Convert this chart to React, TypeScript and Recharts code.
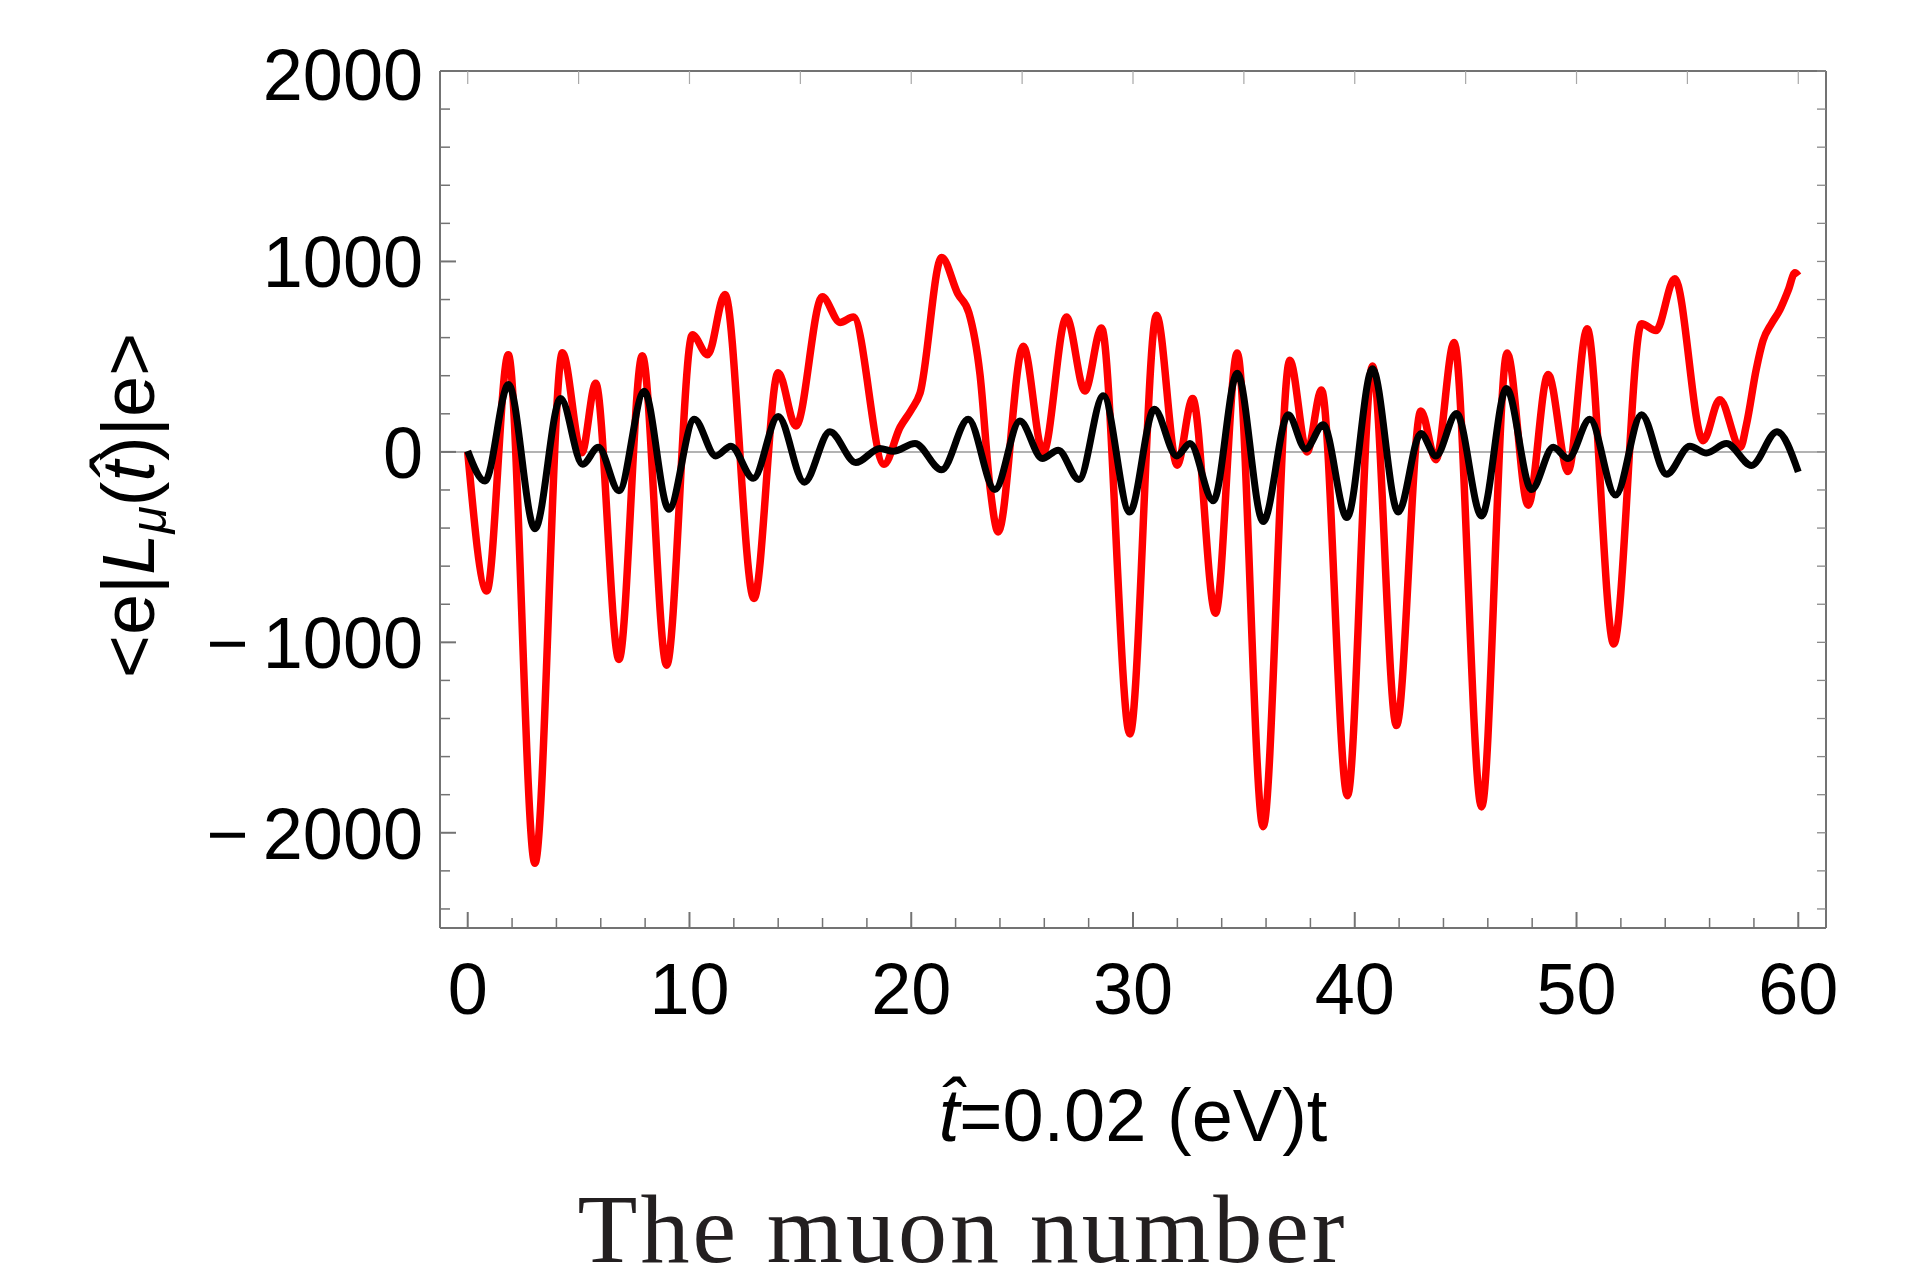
import React from 'react';
import { LineChart, Line, XAxis, YAxis, ReferenceLine } from 'recharts';

// red curve, <e|L_mu(t)|e> sampled at its turning points (t-hat, value)
const redT = [
  0, 0.86, 1.83, 3.03, 4.27, 5.14, 5.77, 6.82, 7.87, 8.97, 10.13, 10.82, 11.6, 12.91, 14.0, 14.8,
  15.99, 16.79, 17.39, 18.77, 19.5, 20.0, 20.4, 21.37, 22.1, 22.6, 23.1, 23.55, 23.92, 25.05, 25.95,
  27.0, 27.83, 28.58, 29.86, 31.06, 31.99, 32.69, 33.72, 34.7, 35.87, 37.07, 37.85, 38.5, 39.67,
  40.8, 41.88, 42.98, 43.66, 44.48, 45.72, 46.87, 47.82, 48.72, 49.62, 50.48, 51.68, 52.93, 53.58,
  54.43, 55.71, 56.46, 57.39, 57.66, 58.11, 58.41, 58.79, 59.17, 59.55, 59.85, 60.0,
];
const redL = [
  0, -730, 510, -2160, 520, -5, 360, -1090, 505, -1120, 615, 510, 826, -770, 416, 136,
  814, 680, 708, -65, 130, 220, 310, 1021, 830, 730, 407, -183, -420, 555, -5,
  708, 320, 650, -1481, 717, -70, 280, -847, 519, -1968, 481, 0, 325, -1805,
  451, -1437, 215, -41, 575, -1864, 519, -280, 407, -103, 646, -1009, 673, 637,
  909, 59, 274, 24, 142, 437, 584, 673, 746, 850, 940, 925,
];

// black curve
const blackT = [
  0, 0.78, 1.84, 3.03, 4.19, 5.18, 5.89, 6.82, 7.96, 9.07, 10.22, 11.18, 11.87, 12.88, 14.0, 15.18,
  16.33, 17.5, 18.59, 19.19, 20.17, 21.37, 22.57, 23.77, 24.9, 25.91, 26.63, 27.56, 28.66, 29.85,
  30.96, 31.97, 32.57, 33.62, 34.7, 35.87, 37.0, 37.78, 38.58, 39.65, 40.8, 41.96, 42.98, 43.66,
  44.59, 45.72, 46.84, 47.97, 48.95, 49.62, 50.6, 51.76, 52.93, 54.06, 55.11, 55.86, 56.76, 57.89,
  59.04, 60.0,
];
const blackL = [
  5, -153, 354, -404, 280, -65, 24, -204, 319, -301, 171, -21, 30, -139, 186, -159,
  106, -56, 18, 3, 44, -94, 171, -198, 162, -35, 9, -145, 295, -316,
  224, -21, 44, -257, 413, -366, 195, 15, 142, -345, 437, -316, 97, -21,
  201, -336, 333, -198, 24, -35, 171, -227, 195, -118, 30, -6, 44, -71,
  106, -105,
];

const xMajorTicks = [0, 10, 20, 30, 40, 50, 60];
const xMinorTicks = [0, 2, 4, 6, 8, 10, 12, 14, 16, 18, 20, 22, 24, 26, 28, 30, 32, 34, 36, 38, 40, 42, 44, 46, 48, 50, 52, 54, 56, 58, 60];
const xTopTicks = [0, 5, 10, 15, 20, 25, 30, 35, 40, 45, 50, 55, 60];
const yMajorTicks = [-2000, -1000, 0, 1000, 2000];
const yMajorLabels = ['\u2212\u20092000', '\u2212\u20091000', '0', '1000', '2000'];
const yMinorTicks = [-2400, -2200, -2000, -1800, -1600, -1400, -1200, -1000, -800, -600, -400, -200, 0, 200, 400, 600, 800, 1000, 1200, 1400, 1600, 1800, 2000];

const redData = redT.map((t, i) => ({ t, v: redL[i] }));
const blackData = blackT.map((t, i) => ({ t, v: blackL[i] }));

const sans = '"Liberation Sans", Arial, Helvetica, sans-serif';
const frame = '#737373';

function BottomTick({ x, y, payload }: any) {
  const major = xMajorTicks.includes(payload.value);
  return (
    <g>
      <line x1={x} x2={x} y1={y} y2={y - (major ? 16 : 10)} stroke={frame} strokeWidth={major ? 2 : 1.5} />
      {major && (
        <text x={x} y={y + 86} textAnchor="middle" fontSize={72} fontFamily={sans} fill="#000">
          {payload.value}
        </text>
      )}
    </g>
  );
}

function TopTick({ x, y }: any) {
  return <line x1={x} x2={x} y1={y} y2={y + 13} stroke="#a8a8a8" strokeWidth={1.2} />;
}

function LeftTick({ x, y, payload }: any) {
  const idx = yMajorTicks.indexOf(payload.value);
  const major = idx >= 0;
  return (
    <g>
      <line x1={x} x2={x + (major ? 16 : 10)} y1={y} y2={y} stroke={frame} strokeWidth={major ? 2 : 1.5} />
      {major && (
        <text
          x={x - 17}
          y={y + (payload.value === 2000 ? 3 : 0)}
          dy="0.36em"
          textAnchor="end"
          fontSize={72}
          fontFamily={sans}
          fill="#000"
        >
          {yMajorLabels[idx]}
        </text>
      )}
    </g>
  );
}

function RightTick({ x, y }: any) {
  return <line x1={x} x2={x - 9} y1={y} y2={y} stroke="#8a8a8a" strokeWidth={1.3} />;
}

function XTitle({ viewBox }: any) {
  const cx = viewBox.x + viewBox.width / 2;
  return (
    <text x={cx} y={viewBox.y + 213} textAnchor="middle" fontSize={74} fontFamily={sans} fill="#000">
      <tspan fontStyle="italic">{'t\u0302'}</tspan>
      <tspan>=0.02 (eV)t</tspan>
    </text>
  );
}

function YTitle({ viewBox }: any) {
  const cy = viewBox.y + viewBox.height / 2 + 6;
  const bx = 154;
  return (
    <g transform={`rotate(-90 ${bx} ${cy})`}>
      <text x={bx} y={cy} textAnchor="middle" fontSize={74} fontFamily={sans} fill="#000">
        <tspan>{'<e|'}</tspan>
        <tspan fontStyle="italic">L</tspan>
        <tspan fontStyle="italic" fontSize={50} dy={12}>μ</tspan>
        <tspan dy={-12}>(</tspan>
        <tspan fontStyle="italic">{'t\u0302'}</tspan>
        <tspan>{')|e>'}</tspan>
      </text>
    </g>
  );
}

export default function App() {
  return (
    <div style={{ position: 'absolute', left: 0, top: 0, width: 1924, height: 1285, background: '#fff' }}>
      <LineChart width={1924} height={1285} margin={{ top: 70, right: 97, bottom: 356, left: 439 }}>
        <XAxis
          xAxisId="b"
          dataKey="t"
          type="number"
          domain={[-1.25, 61.25]}
          allowDataOverflow
          ticks={xMinorTicks}
          interval={0}
          height={1}
          tickSize={0}
          tickMargin={0}
          tickLine={false}
          tick={(p: any) => <BottomTick {...p} />}
          axisLine={{ stroke: frame, strokeWidth: 2 }}
          label={<XTitle />}
        />
        <XAxis
          xAxisId="t"
          dataKey="t"
          type="number"
          orientation="top"
          domain={[-1.25, 61.25]}
          allowDataOverflow
          ticks={xTopTicks}
          interval={0}
          height={1}
          tickSize={0}
          tickMargin={0}
          tickLine={false}
          tick={(p: any) => <TopTick {...p} />}
          axisLine={{ stroke: frame, strokeWidth: 2 }}
        />
        <YAxis
          yAxisId="l"
          type="number"
          domain={[-2500, 2000]}
          allowDataOverflow
          ticks={yMinorTicks}
          interval={0}
          width={1}
          tickSize={0}
          tickMargin={0}
          tickLine={false}
          tick={(p: any) => <LeftTick {...p} />}
          axisLine={{ stroke: frame, strokeWidth: 2 }}
          label={<YTitle />}
        />
        <YAxis
          yAxisId="r"
          orientation="right"
          type="number"
          domain={[-2500, 2000]}
          allowDataOverflow
          ticks={yMinorTicks}
          interval={0}
          width={1}
          tickSize={0}
          tickMargin={0}
          tickLine={false}
          tick={(p: any) => <RightTick {...p} />}
          axisLine={{ stroke: frame, strokeWidth: 2 }}
        />
        <ReferenceLine xAxisId="b" yAxisId="l" y={0} stroke="#9a9a9a" strokeWidth={1.5} />
        <Line
          xAxisId="b"
          yAxisId="l"
          data={redData}
          dataKey="v"
          type="monotone"
          stroke="#ff0000"
          strokeWidth={7.5}
          dot={false}
          activeDot={false}
          isAnimationActive={false}
        />
        <Line
          xAxisId="b"
          yAxisId="l"
          data={blackData}
          dataKey="v"
          type="monotone"
          stroke="#000000"
          strokeWidth={7}
          dot={false}
          activeDot={false}
          isAnimationActive={false}
        />
      </LineChart>
      <svg width={1924} height={1285} style={{ position: 'absolute', left: 0, top: 0, pointerEvents: 'none' }}>
        <text
          x={961}
          y={1262}
          textAnchor="middle"
          fontSize={98}
          fontFamily='"Liberation Serif", "Times New Roman", serif'
          fill="#231f20"
          textLength={767}
          lengthAdjust="spacing"
        >
          The muon number
        </text>
      </svg>
    </div>
  );
}
